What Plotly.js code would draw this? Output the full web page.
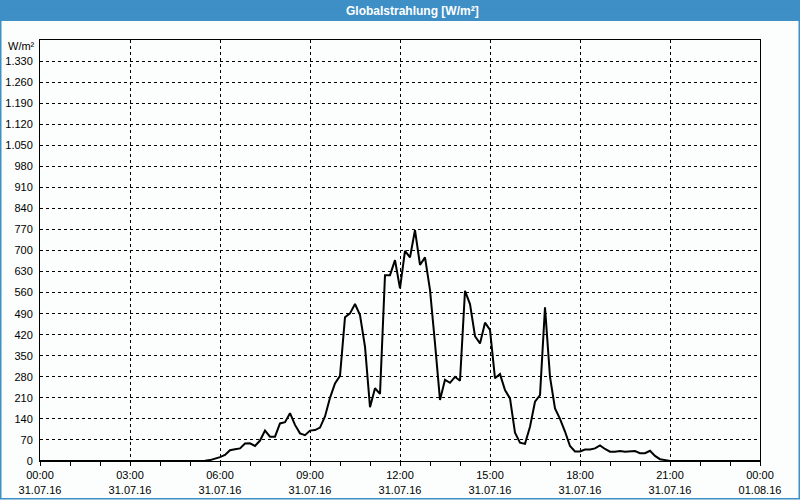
<!DOCTYPE html>
<html>
<head>
<meta charset="utf-8">
<script src="https://cdn.plot.ly/plotly-3.0.1.min.js"></script>
<style>
  html, body { margin: 0; padding: 0; background: #fbfefd; }
  #chart { width: 800px; height: 500px; }
</style>
</head>
<body>
<div id="chart"></div>
<script>
// ---- data (10-minute samples, 31.07.16 00:00 – 01.08.16 00:00) ----
const startTime = '2016-07-31T00:00:00';
const stepMinutes = 10;
const radiation = [
  0,0,0,0,0,0,0,0,0,0,
  0,0,0,0,0,0,0,0,0,0,
  0,0,0,0,0,0,0,0,0,0,
  0,0,0,1,3,7,13,20,36,39,
  42,58,59,50,68,101,81,81,125,129,
  159,120,92,86,101,103,111,148,210,258,
  283,478,491,522,485,380,179,242,223,618,
  618,668,574,699,677,768,652,677,569,391,
  203,270,260,280,267,566,522,415,391,460,
  436,275,289,236,208,94,61,57,114,197,
  219,511,280,175,140,98,50,32,32,38,
  38,42,52,40,31,31,33,31,31,33,
  26,26,34,17,6,3,0,0,0,0,
  0,0,0,0,0,0,0,0,0,0,
  0,0,0,0,0
];
const yTickValues = [0,70,140,210,280,350,420,490,560,630,700,770,840,910,980,1050,1120,1190,1260,1330];
const chartTitle = 'Globalstrahlung [W/m²]';
const unitLabel = 'W/m²';

// timestamps for each sample
const t0 = new Date(startTime + 'Z').getTime();
function fmt(ms) {
  const d = new Date(ms);
  const p = n => String(n).padStart(2, '0');
  return d.getUTCFullYear() + '-' + p(d.getUTCMonth() + 1) + '-' + p(d.getUTCDate()) + ' ' +
         p(d.getUTCHours()) + ':' + p(d.getUTCMinutes());
}
const times = radiation.map((_, i) => fmt(t0 + i * stepMinutes * 60000));

// pixel -> paper helpers (plot area 40..760 x 40..461)
const L = 40, R = 760, T = 40, B = 461;
const X = px => (px - L) / (R - L);
const Y = py => (B - py) / (B - T);

const blue = '#3d8fc6';
const font = 'Liberation Sans, Arial, sans-serif';

const trace = {
  x: times,
  y: radiation,
  type: 'scatter',
  mode: 'lines',
  line: { color: '#000000', width: 2 },
  hoverinfo: 'skip'
};

const layout = {
  width: 800,
  height: 500,
  margin: { l: L, r: 800 - R, t: T, b: 500 - B, pad: 0 },
  paper_bgcolor: '#fbfefd',
  plot_bgcolor: '#fbfefd',
  separators: ',.',
  showlegend: false,
  font: { family: font, size: 11, color: '#000000' },
  xaxis: {
    type: 'date',
    range: ['2016-07-31 00:00', '2016-08-01 00:00'],
    tick0: '2016-07-31 00:00',
    dtick: 3 * 3600000,
    tickformat: '%H:%M<br>%d.%m.%y',
    ticks: 'outside',
    ticklen: 4,
    tickcolor: '#000000',
    tickwidth: 1,
    showgrid: true,
    gridcolor: '#000000',
    gridwidth: 1,
    griddash: 'dot',
    showline: true,
    mirror: true,
    linecolor: '#000000',
    linewidth: 1,
    zeroline: false,
    automargin: false,
    tickfont: { family: font, size: 11, color: '#000000' },
    minor: {
      dtick: 3600000,
      tick0: '2016-07-31 00:00',
      ticks: 'outside',
      ticklen: 4,
      tickcolor: '#000000',
      showgrid: false
    }
  },
  yaxis: {
    range: [0, 1400],
    tickmode: 'array',
    tickvals: yTickValues,
    tickformat: ',d',
    ticks: 'outside',
    ticklen: 4,
    tickcolor: 'rgba(0,0,0,0)',
    showgrid: true,
    gridcolor: '#000000',
    gridwidth: 1,
    griddash: 'dot',
    showline: true,
    mirror: true,
    linecolor: '#000000',
    linewidth: 1,
    zeroline: false,
    automargin: false,
    tickfont: { family: font, size: 11, color: '#000000' }
  },
  shapes: [
    {
      type: 'rect', xref: 'paper', yref: 'paper', layer: 'below',
      x0: X(0), x1: X(800), y0: Y(21), y1: Y(0),
      fillcolor: blue, line: { width: 0 }
    },
    {
      type: 'rect', xref: 'paper', yref: 'paper', layer: 'above',
      x0: X(0.75), x1: X(799.25), y0: Y(498.75), y1: Y(10),
      fillcolor: 'rgba(0,0,0,0)', line: { color: blue, width: 1.5 }
    }
  ],
  annotations: [
    {
      text: '<b>' + chartTitle + '</b>', xref: 'paper', yref: 'paper',
      x: X(412.5), y: Y(10.5), xanchor: 'center', yanchor: 'middle',
      showarrow: false, font: { family: font, size: 12, color: '#ffffff' }
    },
    {
      text: unitLabel, xref: 'paper', yref: 'paper',
      x: X(6), y: Y(46), xanchor: 'left', yanchor: 'middle',
      showarrow: false, font: { family: font, size: 11, color: '#000000' }
    }
  ]
};

Plotly.newPlot('chart', [trace], layout, { staticPlot: true, displayModeBar: false });
</script>
</body>
</html>
